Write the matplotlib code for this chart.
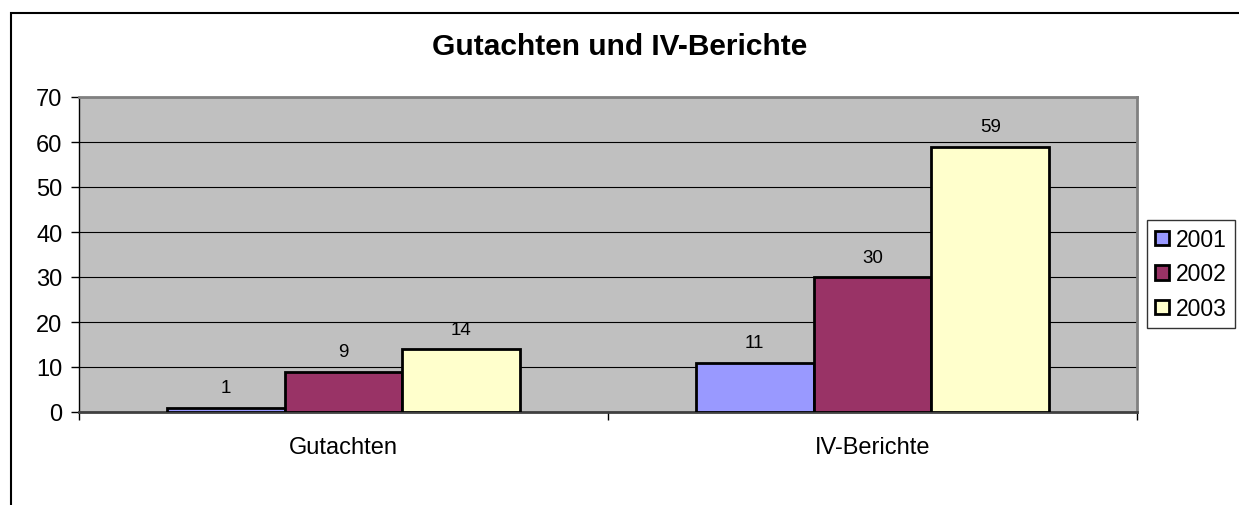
import numpy as np
import matplotlib.pyplot as plt
from matplotlib.patches import Rectangle

plt.rcParams['font.family'] = ['Liberation Sans', 'DejaVu Sans']

categories = ['Gutachten', 'IV-Berichte']
years = ['2001', '2002', '2003']
v2001 = [1, 11]
v2002 = [9, 30]
v2003 = [14, 59]
colors = ['#9999FF', '#993366', '#FFFFCC']

fig = plt.figure(figsize=(12.39, 5.06), dpi=100)
# outer chart frame
fig.patches.append(Rectangle((11 / 1239, -0.1), 1.2, (506 - 14) / 506 + 0.1,
                             transform=fig.transFigure, fill=False,
                             edgecolor='black', linewidth=1.5))

ax = fig.add_axes([79 / 1239, 93 / 506, 1058 / 1239, 315 / 506])
ax.set_facecolor('#C0C0C0')

x = np.arange(len(categories))
w = 0.223
for i, (vals, c, yr) in enumerate(zip([v2001, v2002, v2003], colors, years)):
    bars = ax.bar(x + (i - 1) * w, vals, w, color=c, edgecolor='black',
                  linewidth=2, label=yr, zorder=3)
    for b, v in zip(bars, vals):
        ax.text(b.get_x() + b.get_width() / 2, v + 3.4, str(v),
                ha='center', va='baseline', fontsize=13.5)

ax.set_xlim(-0.5, 1.5)
ax.set_ylim(0, 70)
ax.set_yticks(range(0, 71, 10))
ax.yaxis.grid(True, color='black', linewidth=0.8, zorder=1)
ax.set_axisbelow(True)
ax.set_xticks([-0.5, 0.5, 1.5], minor=False)
ax.set_xticklabels([])
ax.set_xticks(x, minor=True)
ax.set_xticklabels(categories, minor=True, fontsize=17)
ax.tick_params(axis='x', which='minor', length=0, pad=17)
ax.tick_params(axis='x', which='major', length=6, direction='out', width=1)
ax.tick_params(axis='y', labelsize=17, length=6, direction='out', width=1, pad=6)

ax.spines['top'].set_color('#808080')
ax.spines['right'].set_color('#808080')
ax.spines['top'].set_linewidth(2)
ax.spines['right'].set_linewidth(2)
ax.spines['bottom'].set_color('#404040')
ax.spines['bottom'].set_linewidth(2)
ax.spines['left'].set_linewidth(1)

fig.text(0.5, (506 - 47) / 506, 'Gutachten und IV-Berichte', ha='center',
         va='center', fontsize=21.5, fontweight='bold')

leg = fig.legend(loc='center left', bbox_to_anchor=(1147 / 1239, (506 - 275) / 506),
                 fontsize=16.5, frameon=True, fancybox=False, edgecolor='black',
                 handlelength=0.6, handleheight=0.6, handletextpad=0.3,
                 borderpad=0.35, labelspacing=0.5, borderaxespad=0)
leg.get_frame().set_linewidth(1)

fig.savefig('out.png', dpi=100)
